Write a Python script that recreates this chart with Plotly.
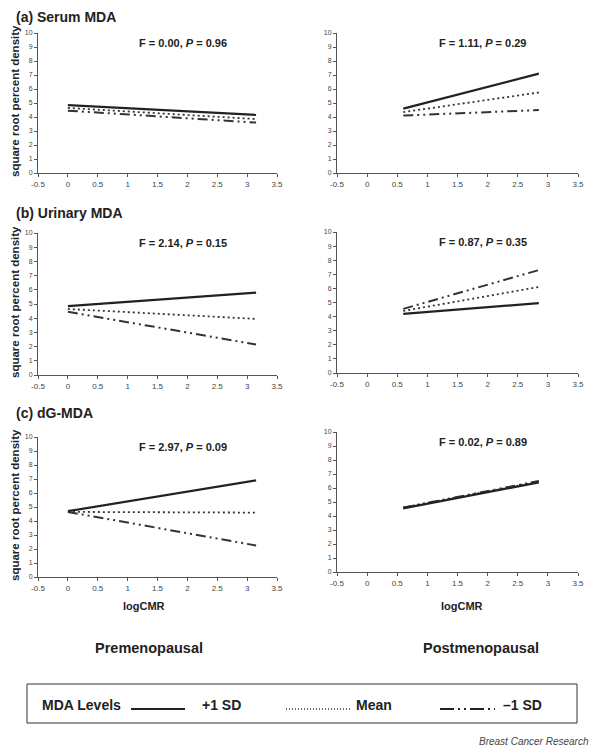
import plotly.graph_objects as go

# ---- data ----
pre_x = [0.0, 3.15]
post_x = [0.6, 2.85]

serum_pre_plus = [4.85, 4.15]
serum_pre_mean = [4.65, 3.85]
serum_pre_minus = [4.45, 3.6]
serum_post_plus = [4.6, 7.1]
serum_post_mean = [4.35, 5.75]
serum_post_minus = [4.1, 4.5]

urin_pre_plus = [4.85, 5.8]
urin_pre_mean = [4.65, 3.95]
urin_pre_minus = [4.45, 2.15]
urin_post_plus = [4.2, 4.95]
urin_post_mean = [4.4, 6.1]
urin_post_minus = [4.55, 7.3]

dg_pre_plus = [4.7, 6.9]
dg_pre_mean = [4.65, 4.6]
dg_pre_minus = [4.65, 2.25]
dg_post_plus = [4.55, 6.4]
dg_post_mean = [4.6, 6.45]
dg_post_minus = [4.6, 6.5]

x_ticks = [-0.5, 0, 0.5, 1, 1.5, 2, 2.5, 3, 3.5]
x_tick_labels = ["-0.5", "0", "0.5", "1", "1.5", "2", "2.5", "3", "3.5"]
y_ticks = list(range(0, 11))

stats = ["F = 0.00, <i>P</i> = 0.96", "F = 1.11, <i>P</i> = 0.29",
         "F = 2.14, <i>P</i> = 0.15", "F = 0.87, <i>P</i> = 0.35",
         "F = 2.97, <i>P</i> = 0.09", "F = 0.02, <i>P</i> = 0.89"]
titles = ["(a) Serum MDA", "(b) Urinary MDA", "(c) dG-MDA"]

W, H = 600, 747
OFF = 8  # page body margin
def px(x): return (x - OFF) / W
def py(y): return 1 - (y - OFF) / H

FONT = "Liberation Sans, Arial, sans-serif"
SOLID = dict(color="#222222", width=2.2, dash="solid")
DOT = dict(color="#333333", width=1.8, dash="2px,3px")
DDOT = dict(color="#333333", width=2.0, dash="10px,4px,2px,4px,2px,4px")

panels = [
    (pre_x, serum_pre_plus, serum_pre_mean, serum_pre_minus, (38, 277), (33, 173)),
    (post_x, serum_post_plus, serum_post_mean, serum_post_minus, (337, 578), (33, 173)),
    (pre_x, urin_pre_plus, urin_pre_mean, urin_pre_minus, (38, 277), (233, 375)),
    (post_x, urin_post_plus, urin_post_mean, urin_post_minus, (337, 578), (232, 373)),
    (pre_x, dg_pre_plus, dg_pre_mean, dg_pre_minus, (38, 277), (437, 577)),
    (post_x, dg_post_plus, dg_post_mean, dg_post_minus, (337, 578), (432, 572)),
]

fig = go.Figure()
layout = {}
annotations = []
for i, (xs, plus, mean, minus, xd, yd) in enumerate(panels):
    n = i + 1
    xa = "x" if n == 1 else f"x{n}"
    ya = "y" if n == 1 else f"y{n}"
    for vals, ln in ((minus, DDOT), (mean, DOT), (plus, SOLID)):
        fig.add_trace(go.Scatter(x=xs, y=vals, mode="lines", line=ln,
                                 xaxis=xa, yaxis=ya, showlegend=False,
                                 hoverinfo="skip"))
    xkey = "xaxis" if n == 1 else f"xaxis{n}"
    ykey = "yaxis" if n == 1 else f"yaxis{n}"
    layout[xkey] = dict(domain=[px(xd[0]), px(xd[1])], anchor=ya, range=[-0.5, 3.5],
                        tickvals=x_ticks, ticktext=x_tick_labels, showgrid=False,
                        zeroline=False, showline=True, linecolor="#555555", linewidth=1,
                        ticks="outside", ticklen=3, tickcolor="#555555", automargin=False,
                        tickfont=dict(family=FONT, size=8, color="#444444"))
    layout[ykey] = dict(domain=[py(yd[1]), py(yd[0])], anchor=xa, range=[0, 10],
                        tickvals=y_ticks, showgrid=False, zeroline=False,
                        showline=True, linecolor="#555555", linewidth=1,
                        ticks="outside", ticklen=3, tickcolor="#555555", automargin=False,
                        tickfont=dict(family=FONT, size=7, color="#444444"))
    if n % 2 == 1:
        annotations.append(dict(text="<b>square root percent density</b>", x=px(15),
                                y=py((yd[0] + yd[1]) / 2 - 2), xref="paper", yref="paper",
                                xanchor="center", yanchor="middle", textangle=-90,
                                showarrow=False,
                                font=dict(family=FONT, size=11.5, color="#222222")))
    if n >= 5:
        annotations.append(dict(text="<b>logCMR</b>", x=px(144 if n == 5 else 462),
                                y=py(606), xref="paper", yref="paper",
                                xanchor="center", yanchor="middle", showarrow=False,
                                font=dict(family=FONT, size=11, color="#222222")))
    cx = (xd[0] + xd[1]) / 2 + 25
    annotations.append(dict(text=f"<b>{stats[i]}</b>", x=px(cx), y=py(yd[0] + 10),
                            xref="paper", yref="paper", xanchor="center", yanchor="middle",
                            showarrow=False,
                            font=dict(family=FONT, size=11, color="#222222")))

title_y = [17, 213, 413]
for t, yy in zip(titles, title_y):
    annotations.append(dict(text=f"<b>{t}</b>", x=px(14), y=py(yy), xref="paper",
                            yref="paper", xanchor="left", yanchor="middle", showarrow=False,
                            font=dict(family=FONT, size=14, color="#222222")))

annotations.append(dict(text="<b>Premenopausal</b>", x=px(149), y=py(648), xref="paper",
                        yref="paper", xanchor="center", yanchor="middle", showarrow=False,
                        font=dict(family=FONT, size=14.5, color="#222222")))
annotations.append(dict(text="<b>Postmenopausal</b>", x=px(481), y=py(648), xref="paper",
                        yref="paper", xanchor="center", yanchor="middle", showarrow=False,
                        font=dict(family=FONT, size=14.5, color="#222222")))

# legend box
LEG_Y = 705
shapes = [dict(type="rect", xref="paper", yref="paper", x0=px(27), x1=px(577),
               y0=py(723), y1=py(684), line=dict(color="#333333", width=1))]
shapes.append(dict(type="line", xref="paper", yref="paper", x0=px(131), x1=px(185),
                   y0=py(LEG_Y + 4), y1=py(LEG_Y + 4), line=SOLID))
shapes.append(dict(type="line", xref="paper", yref="paper", x0=px(286), x1=px(350),
                   y0=py(LEG_Y + 4), y1=py(LEG_Y + 4),
                   line=dict(color="#333333", width=1.5, dash="1px,2px")))
shapes.append(dict(type="line", xref="paper", yref="paper", x0=px(440), x1=px(495),
                   y0=py(LEG_Y + 4), y1=py(LEG_Y + 4),
                   line=dict(color="#222222", width=2.0, dash="14px,4px,2px,4px,2px,4px")))
for txt, xx in (("MDA Levels", 40), ("+1 SD", 200), ("Mean", 354), ("\u20131 SD", 501)):
    annotations.append(dict(text=f"<b>{txt}</b>", x=px(xx), y=py(LEG_Y), xref="paper",
                            yref="paper", xanchor="left", yanchor="middle", showarrow=False,
                            font=dict(family=FONT, size=14, color="#222222")))

annotations.append(dict(text="<i>Breast Cancer Research</i>", x=px(591), y=py(741),
                        xref="paper", yref="paper", xanchor="right", yanchor="middle",
                        showarrow=False,
                        font=dict(family=FONT, size=10, color="#444444")))

fig.update_layout(width=W, height=H, margin=dict(l=0, r=0, t=0, b=0, autoexpand=False),
                  paper_bgcolor="white", plot_bgcolor="white",
                  annotations=annotations, shapes=shapes, **layout)
fig.write_html("out.html")
